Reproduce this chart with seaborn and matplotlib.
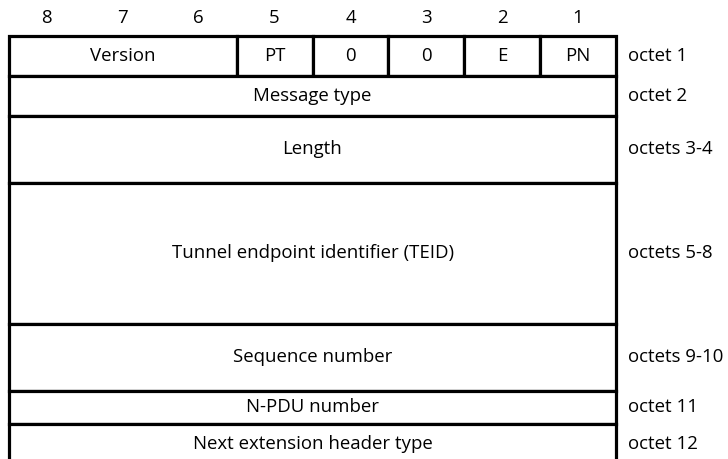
import numpy as np
import matplotlib
matplotlib.use("Agg")
import matplotlib.pyplot as plt
import seaborn as sns

sns.set_theme(style="white")
plt.rcParams['font.family'] = ['Open Sans', 'DejaVu Sans']
plt.rcParams['text.color'] = 'black'

# bit numbers across the top, most significant first
bits = [8, 7, 6, 5, 4, 3, 2, 1]

# first octet is split into fields
flag_fields = ["Version", "PT", "0", "0", "E", "PN"]
flag_widths = [3, 1, 1, 1, 1, 1]

# full-width rows (octet 1 is the flag row above)
row_fields = ["", "Message type", "Length", "Tunnel endpoint identifier (TEID)",
              "Sequence number", "N-PDU number", "Next extension header type"]
row_octets = ["octet 1", "octet 2", "octets 3-4", "octets 5-8",
              "octets 9-10", "octet 11", "octet 12"]
row_heights = [40, 40, 67, 141, 67, 33, 40]

fig = plt.figure(figsize=(7.28, 4.59), dpi=100)
ax = fig.add_axes([0, 0, 1, 1])

col_w = 75.875  # px per bit, used only to map the axis to the canvas
ax.set_xlim(-9 / col_w, 719 / col_w)
ax.set_ylim(459 - 35.7, -35.7)

lw = 2.3
fs = 13.4

# bit numbers
for i, b in enumerate(bits):
    ax.text(i + 0.5, -18, str(b), ha="center", va="center", fontsize=fs)

tops = np.concatenate([[0], np.cumsum(row_heights)[:-1]])
centers = tops + np.array(row_heights) / 2

# octet 1 fields
lefts = np.concatenate([[0], np.cumsum(flag_widths)[:-1]])
ax.barh(centers[0], flag_widths, left=lefts, height=row_heights[0],
        color="white", edgecolor="black", linewidth=lw)
for name, l, w in zip(flag_fields, lefts, flag_widths):
    ax.text(l + w / 2, centers[0], name, ha="center", va="center", fontsize=fs)

# remaining rows span all 8 bits
ax.barh(centers[1:], len(bits), left=0, height=row_heights[1:],
        color="white", edgecolor="black", linewidth=lw)
for name, c in zip(row_fields[1:], centers[1:]):
    ax.text(len(bits) / 2, c, name, ha="center", va="center", fontsize=fs)

# octet labels on the right
for lab, c in zip(row_octets, centers):
    ax.text(len(bits) + 0.16, c, lab, ha="left", va="center", fontsize=fs)

ax.set_xticks([])
ax.set_yticks([])
sns.despine(ax=ax, left=True, bottom=True)
fig.savefig("out.png", dpi=100)
